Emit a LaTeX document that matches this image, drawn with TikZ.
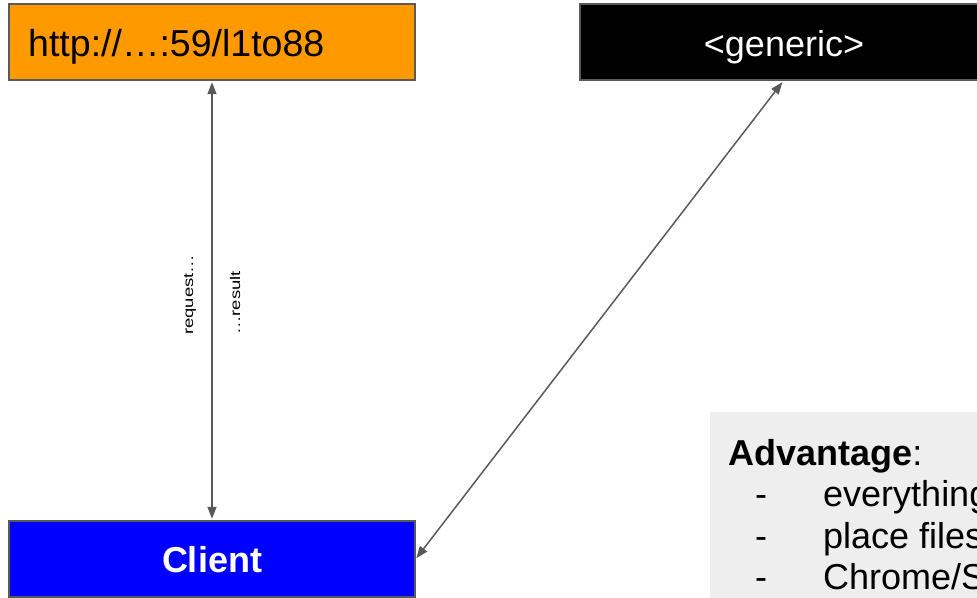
\documentclass[tikz,border=0pt]{standalone}
\usepackage{fontspec}
\setmainfont{Liberation Sans}
\usetikzlibrary{arrows.meta,calc}
\definecolor{urlorange}{HTML}{FF9900}
\definecolor{clientblue}{HTML}{0000FF}
\definecolor{edgegray}{HTML}{595959}
\definecolor{notegray}{HTML}{EEEEEE}
\tikzset{
  box/.style={draw=edgegray, line width=1.4pt, minimum height=76pt, inner sep=0pt},
  link/.style={draw=edgegray, line width=1.5pt,
    {Triangle[length=12pt,width=9pt]}-{Triangle[length=12pt,width=9pt]}},
  tag/.style={font=\fontsize{14}{16}\selectfont, inner sep=0pt, rotate=90, anchor=base west},
  big/.style={font=\fontsize{36}{41.5}\selectfont}
}
\begin{document}
\begin{tikzpicture}[x=1pt,y=-1pt]
  \useasboundingbox (0,0) rectangle (977,597);
  \clip (0,0) rectangle (977,597);
  % service endpoint
  \node[box, fill=urlorange, minimum width=406pt] (url) at (212,42) {};
  \node[font=\fontsize{37.5}{41.5}\selectfont, anchor=base west, inner sep=0pt] (urltext) at (28,56) {http://…:59/l1to88};
  % generic backend
  \node[box, fill=black, minimum width=420pt] (generic) at (790,42) {};
  \node[big, text=white, anchor=base, inner sep=0pt] (generictext) at (784,56) {<generic>};
  % client
  \node[box, fill=clientblue, minimum width=406pt] (client) at (212,559) {};
  \node[big, text=white, font=\fontsize{36}{41.5}\selectfont\bfseries] (clienttext) at (212,560) {Client};
  % note panel
  \node[fill=notegray, minimum width=300pt, minimum height=200pt, anchor=north west] (note) at (710,412) {};
  \node[big, anchor=base west, inner sep=0pt] (adv) at (728,465) {\textbf{Advantage}:};
  \foreach \t [count=\i] in {everything, place files, Chrome/S}{
    \node[big, anchor=base west, inner sep=0pt] (dash\i) at (755,465+41.5*\i) {-};
    \node[big, anchor=base west, inner sep=0pt] (item\i) at (823,465+41.5*\i) {\t};
  }
  % connectors
  \draw[link, shorten <=1.5pt, shorten >=1.5pt] (url.south) -- (client.north);
  \draw[link, shorten <=1pt] (client.east) -- ($(generic.south west)+(203,1.5)$);
  \node[tag] (req) at (193,335) {\scalebox{1.32}[1]{request…}};
  \node[tag] (res) at (240,335) {\scalebox{1.32}[1]{…result}};
\end{tikzpicture}
\end{document}
